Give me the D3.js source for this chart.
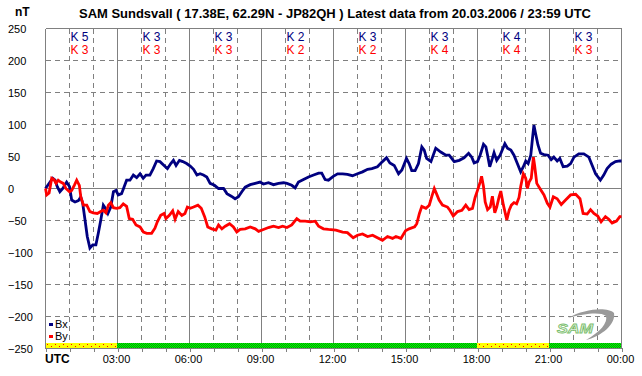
<!DOCTYPE html>
<html>
<head>
<meta charset="utf-8">
<script src="https://cdn.jsdelivr.net/npm/d3@7"></script>
<style>
  html, body { margin: 0; padding: 0; background: #fff; }
  svg { display: block; }
  text { font-family: Arial, "Liberation Sans", sans-serif; }
</style>
</head>
<body>
<svg id="chart" width="642" height="376"></svg>
<script>
// ---------------- data ----------------
const titleText = "SAM Sundsvall ( 17.38E, 62.29N - JP82QH ) Latest data from 20.03.2006 / 23:59 UTC";
const yTicks = [250, 200, 150, 100, 50, 0, -50, -100, -150, -200, -250];
const xTickLabels = ["03:00", "06:00", "09:00", "12:00", "15:00", "18:00", "21:00", "00:00"];
const kBx = [5, 3, 3, 2, 3, 3, 4, 3];
const kBy = [3, 3, 3, 2, 2, 4, 4, 3];
const blockStatus = ["warn", "ok", "ok", "ok", "ok", "ok", "warn", "ok"];

const bxTime = [0,0.3,0.4,0.49,0.6,0.72,0.88,1.0,1.09,1.23,1.37,1.47,1.55,1.65,1.74,1.85,1.97,2.1,2.2,2.3,2.41,2.5,2.6,2.72,2.83,2.94,3.03,3.17,3.27,3.38,3.52,3.66,3.8,3.94,4.07,4.19,4.35,4.49,4.63,4.77,4.94,5.08,5.22,5.33,5.44,5.58,5.72,5.88,
 6.03,6.17,6.31,6.44,6.58,6.72,6.86,7.04,7.21,7.42,7.56,7.74,7.9,8.04,8.18,8.32,8.53,8.74,8.94,9.08,9.29,9.5,9.71,9.92,10.06,10.26,10.4,10.54,10.75,10.96,11.17,11.38,11.51,11.65,11.79,
 11.99,12.17,12.38,12.58,12.79,13.0,13.21,13.42,13.6,13.83,14.04,14.21,14.35,14.53,14.71,14.85,15.04,15.15,15.26,15.4,15.54,15.68,15.78,15.88,16.06,16.26,16.47,16.68,16.82,17.03,17.24,17.44,17.63,17.76,17.86,
 18.0,18.11,18.25,18.35,18.42,18.51,18.62,18.69,18.8,18.94,19.04,19.14,19.25,19.39,19.52,19.66,19.8,19.91,20.01,20.11,20.22,20.29,20.35,20.42,20.52,20.63,20.77,20.94,21.07,21.18,21.32,21.43,21.57,21.74,21.88,22.02,22.22,22.43,22.64,22.78,22.92,23.12,23.26,23.4,23.57,23.75,23.93,24.0];
const bxValue = [0,16,13,3,-5,0,10,3,-18,-21,-19,-13,-23,-50,-75,-93,-88,-88,-70,-50,-26,-31,-39,-29,-5,-3,-10,-8,2,13,13,21,17,23,16,21,21,31,43,42,36,31,39,44,36,44,42,39,
 35,30,21,23,21,18,8,5,0,0,-8,-12,-16,-13,-5,2,6,8,10,7,9,6,8,9,8,5,1,10,14,18,21,24,24,14,13,
 19,23,23,22,20,23,26,30,31,34,42,48,40,36,23,29,47,39,28,28,39,65,60,47,42,63,57,52,52,42,44,48,55,49,40,
 42,52,69,65,52,34,47,56,44,52,61,70,63,60,52,39,26,34,43,39,52,78,99,86,68,55,53,52,45,49,43,47,34,35,39,49,54,54,49,36,23,13,21,31,38,42,43,43];

const byTime = [0,0.05,0.15,0.26,0.35,0.44,0.53,0.63,0.74,0.85,1.0,1.09,1.2,1.3,1.41,1.47,1.58,1.72,1.85,1.99,2.16,2.3,2.41,2.52,2.62,2.72,2.83,2.96,3.1,3.24,3.38,3.49,3.63,3.77,3.94,4.08,4.22,4.42,4.56,4.66,4.8,4.94,5.02,5.16,5.3,5.4,5.53,5.68,5.81,5.91,
 6.03,6.17,6.35,6.49,6.63,6.76,6.93,7.1,7.21,7.35,7.49,7.67,7.83,7.97,8.11,8.32,8.53,8.74,8.88,9.08,9.29,9.5,9.71,9.88,10.06,10.26,10.47,10.61,10.82,11.03,11.24,11.38,11.58,11.79,
 12.1,12.38,12.58,12.82,13.0,13.21,13.42,13.63,13.83,14.04,14.25,14.46,14.6,14.81,15.0,15.15,15.38,15.47,15.58,15.68,15.85,15.99,16.1,16.2,16.29,16.4,16.54,16.75,16.85,16.99,17.17,17.35,17.51,17.65,17.79,17.9,
 18.0,18.11,18.17,18.25,18.32,18.42,18.53,18.62,18.72,18.8,18.9,18.97,19.08,19.22,19.32,19.41,19.52,19.63,19.73,19.8,19.91,20.01,20.08,20.15,20.24,20.33,20.38,20.47,20.6,20.77,20.91,21.02,21.16,21.32,21.49,21.67,21.88,22.09,22.27,22.4,22.57,22.71,22.85,23.01,23.15,23.33,23.47,23.61,23.79,23.93,24.0];
const byValue = [0,-10,-7,16,14,8,13,10,8,0,-5,-3,5,13,5,-13,-26,-26,-36,-38,-39,-36,-34,-38,-26,-22,-30,-31,-30,-24,-28,-47,-48,-57,-60,-68,-70,-70,-62,-52,-42,-39,-47,-42,-35,-48,-36,-42,-39,-29,
 -31,-29,-26,-31,-44,-60,-63,-65,-57,-63,-59,-55,-60,-68,-64,-63,-60,-63,-67,-64,-61,-59,-61,-59,-61,-57,-47,-51,-51,-52,-51,-59,-63,-64,
 -65,-68,-69,-77,-73,-71,-75,-73,-77,-81,-75,-78,-75,-78,-66,-63,-60,-55,-39,-28,-31,-26,-12,0,-8,-18,-26,-29,-34,-43,-36,-34,-26,-33,-31,-14,
 -3,10,19,3,-21,-33,-29,-12,-38,-29,-13,-4,-26,-49,-34,-26,-22,-24,-14,3,23,16,0,10,16,49,36,8,0,-10,-23,-29,-13,-16,-25,-18,-10,-9,-16,-39,-40,-33,-39,-43,-52,-44,-48,-54,-51,-44,-44];

const seriesNames = ["Bx", "By"];
const seriesColors = ["#000080", "#ff0000"];

// ---------------- drawing ----------------
const svg = d3.select("#chart");
const x = d3.scaleLinear().domain([0, 24]).range([45.5, 621.5]);
const y = d3.scaleLinear().domain([-250, 250]).range([348.5, 28.5]);
const grid = "#808080";

// patterns for status bar
const defs = svg.append("defs");
const pg = defs.append("pattern").attr("id", "greenPat").attr("patternUnits", "userSpaceOnUse")
  .attr("width", 2).attr("height", 2);
pg.append("rect").attr("width", 2).attr("height", 2).attr("fill", "#00ff00");
pg.append("rect").attr("x", 0).attr("y", 0).attr("width", 1).attr("height", 1).attr("fill", "#009900");
pg.append("rect").attr("x", 1).attr("y", 1).attr("width", 1).attr("height", 1).attr("fill", "#009900");
const py = defs.append("pattern").attr("id", "yellowPat").attr("patternUnits", "userSpaceOnUse")
  .attr("width", 8).attr("height", 6).attr("x", 45).attr("y", 343);
py.append("rect").attr("width", 8).attr("height", 6).attr("fill", "#ffff00");
py.append("rect").attr("x", 2).attr("y", 1).attr("width", 1).attr("height", 1).attr("fill", "#ff0000");
py.append("rect").attr("x", 6).attr("y", 3).attr("width", 1).attr("height", 1).attr("fill", "#ff0000");

// horizontal grid
svg.append("g").selectAll("line").data(yTicks).join("line")
  .attr("x1", x(0)).attr("x2", x(24))
  .attr("y1", d => y(d)).attr("y2", d => y(d))
  .attr("stroke", grid).attr("stroke-width", 1)
  .attr("stroke-dasharray", d => (d === 0 || d === 250 || d === -250) ? null : "5,4")
  .attr("shape-rendering", "crispEdges");

// vertical grid (hourly), solid every 3 h
const hours = d3.range(0, 25);
svg.append("g").selectAll("line").data(hours).join("line")
  .attr("x1", d => x(d)).attr("x2", d => x(d))
  .attr("y1", y(250)).attr("y2", y(-250))
  .attr("stroke", grid).attr("stroke-width", 1)
  .attr("stroke-dasharray", d => d % 3 === 0 ? null : "5,4")
  .attr("shape-rendering", "crispEdges");

// status bar
svg.append("g").selectAll("rect").data(blockStatus).join("rect")
  .attr("x", (d, i) => x(i * 3) - 0.5 + (i === 0 ? 1 : 0))
  .attr("width", (d, i) => x(i * 3 + 3) - x(i * 3) - (i === 0 ? 1 : 0))
  .attr("y", 343).attr("height", 5)
  .attr("fill", d => d === "ok" ? "url(#greenPat)" : "url(#yellowPat)");

// x axis with hourly ticks
const xAxis = d3.axisBottom(x)
  .tickValues(hours)
  .tickSize(4)
  .tickPadding(3)
  .tickFormat(d => (d > 0 && d % 3 === 0) ? xTickLabels[d / 3 - 1] : "");
const gx = svg.append("g").attr("transform", "translate(0,348)").call(xAxis);
gx.select(".domain").remove();
gx.selectAll(".tick line").attr("stroke", grid).attr("shape-rendering", "crispEdges");
gx.selectAll(".tick text").attr("font-size", 11).attr("fill", "#000").attr("dx", -1.5)
  .attr("font-family", "Arial, 'Liberation Sans', sans-serif");

// y axis labels (left aligned at x=8)
const yAxis = d3.axisLeft(y).tickValues(yTicks).tickSize(0).tickPadding(0).tickFormat(d3.format("d"));
const gy = svg.append("g").attr("transform", "translate(8,0)").call(yAxis);
gy.select(".domain").remove();
gy.selectAll(".tick text").attr("text-anchor", "start").attr("x", 0).attr("font-size", 11)
  .attr("fill", "#000").attr("font-family", "Arial, 'Liberation Sans', sans-serif");

// titles
svg.append("text").attr("x", 15).attr("y", 16).attr("font-size", 12).attr("font-weight", "bold").text("nT");
svg.append("text").attr("x", 79).attr("y", 18).attr("font-size", 13).attr("font-weight", "bold")
  .attr("textLength", 512).attr("lengthAdjust", "spacingAndGlyphs").text(titleText);
svg.append("text").attr("x", 45).attr("y", 363).attr("font-size", 12).attr("font-weight", "bold").text("UTC");

// K indices
svg.append("g").selectAll("text").data(kBx).join("text")
  .attr("x", (d, i) => x(i * 3 + 1.5) - 2).attr("y", 41)
  .attr("text-anchor", "middle").attr("font-size", 12).attr("fill", seriesColors[0])
  .text(d => "K " + d);
svg.append("g").selectAll("text").data(kBy).join("text")
  .attr("x", (d, i) => x(i * 3 + 1.5) - 2).attr("y", 54)
  .attr("text-anchor", "middle").attr("font-size", 12).attr("fill", seriesColors[1])
  .text(d => "K " + d);

// series lines
const line = d3.line().x(d => x(d[0])).y(d => y(d[1]));
const series = [d3.zip(bxTime, bxValue), d3.zip(byTime, byValue)];
svg.append("path").datum(series[0]).attr("d", line).attr("fill", "none")
  .attr("stroke", seriesColors[0]).attr("stroke-width", 2.8).attr("stroke-linejoin", "miter");
svg.append("path").datum(series[1]).attr("d", line).attr("fill", "none")
  .attr("stroke", seriesColors[1]).attr("stroke-width", 2.8).attr("stroke-linejoin", "miter");

// legend
const lg = svg.append("g");
seriesNames.forEach((n, i) => {
  lg.append("rect").attr("x", 49).attr("y", 323 + i * 12).attr("width", 4).attr("height", 3).attr("fill", seriesColors[i]);
  lg.append("text").attr("x", 55).attr("y", 328 + i * 12).attr("font-size", 11).attr("fill", "#000").text(n);
});

// SAM logo (approximation)
const logo = svg.append("g");
logo.append("path")
  .attr("d", "M568,318 C586,308 608,307 614,313 C616,324 602,336 586,340 C600,332 608,323 606,316 C601,312 586,313 568,318 Z")
  .attr("fill", "#9a9a9a");
logo.append("text").attr("x", 557).attr("y", 333).attr("font-size", 13).attr("font-style", "italic")
  .attr("font-weight", "bold").attr("fill", "#eef6ea").attr("stroke", "#7cbf6f").attr("stroke-width", 0.8)
  .attr("textLength", 36).attr("lengthAdjust", "spacingAndGlyphs").text("SAM");
</script>
</body>
</html>
